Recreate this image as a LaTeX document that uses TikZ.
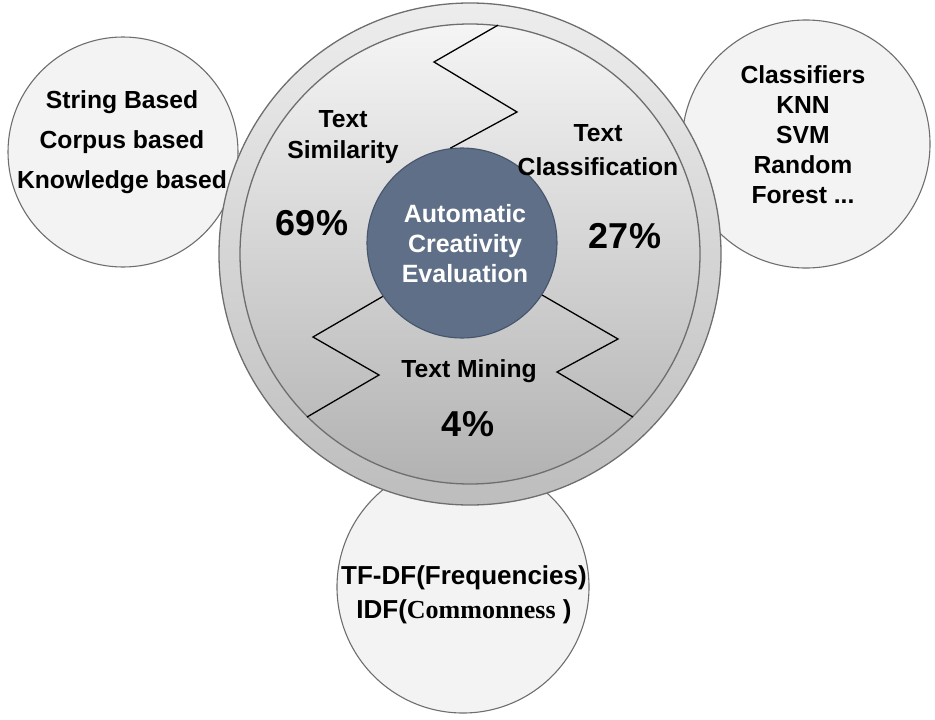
\documentclass[tikz,border=0pt]{standalone}
\usepackage{fontspec}
\setmainfont{Liberation Sans}
\newfontfamily\serifbf{Liberation Serif}
\definecolor{rimgray}{HTML}{6E6E6E}
\definecolor{sidefill}{HTML}{F3F3F3}
\definecolor{slate}{HTML}{5E6F87}
\definecolor{slateedge}{HTML}{46556B}
\definecolor{ringtop}{HTML}{EDEDED}
\definecolor{ringbot}{HTML}{BDBDBD}
\definecolor{intop}{HTML}{F5F5F5}
\definecolor{inbot}{HTML}{B2B2B2}
\begin{document}
\begin{tikzpicture}[x=1pt,y=-1pt,
  side/.style={circle, draw=rimgray, line width=1.1pt, fill=sidefill, minimum size=#1, inner sep=0pt},
  ring/.style={circle, draw=rimgray, line width=1.3pt, minimum size=#1, inner sep=0pt},
  lbl/.style={font=\bfseries\fontsize{24.7}{30}\selectfont, align=center, anchor=base, inner sep=0pt},
  pct/.style={font=\bfseries\fontsize{36}{40}\selectfont, anchor=base, inner sep=0pt},
  zig/.style={draw=black, line width=1.3pt, line join=miter}
]
\useasboundingbox (0,0) rectangle (935,720);
% satellite circles
\node[side=230pt] (leftc) at (123,152) {};
\node[side=248pt] (rightc) at (806,144) {};
\node[side=252pt] (botc) at (463,587) {};
% main circle
\node[ring=502pt, top color=ringtop, bottom color=ringbot] (outer) at (470,254) {};
\node[ring=460pt, top color=intop, bottom color=inbot] (inner) at (470,254) {};
\node[circle, draw=slateedge, line width=1.1pt, fill=slate, minimum size=190pt, inner sep=0pt] (core) at (462,243) {};
% zigzag separators
\coordinate (t1) at (434,62);
\coordinate (t2) at (517,112);
\coordinate (l1) at (313,337);
\coordinate (l2) at (379,375);
\coordinate (r1) at (618,339);
\coordinate (r2) at (557,372);
\draw[zig] (inner.83) -- (t1) -- (t2) -- (core.97);
\draw[zig] (core.214) -- (l1) -- (l2) -- (inner.225);
\draw[zig] (core.327) -- (r1) -- (r2) -- (inner.315);
% texts (base anchor = baseline of the last line)
\node[lbl, font=\bfseries\fontsize{24.7}{40}\selectfont] (ltxt) at (122,188.8) {String Based\\Corpus based\\Knowledge based};
\node[lbl] (rtxt) at (803,203.8) {Classifiers\\KNN\\SVM\\Random\\Forest ...};
\node[lbl, font=\bfseries\fontsize{24.7}{31}\selectfont] (sim) at (343,158.8) {Text\\Similarity};
\node[pct] (p69) at (312,235) {69\%};
\node[lbl, font=\bfseries\fontsize{24.7}{34}\selectfont] (cls) at (598,175.8) {Text\\Classification};
\node[pct] (p27) at (625,248) {27\%};
\node[lbl, text=white, font=\bfseries\fontsize{25}{30}\selectfont] (ace) at (465,282) {Automatic\\Creativity\\Evaluation};
\node[lbl] (mine) at (469,377) {Text Mining};
\node[pct] (p4) at (468,436) {4\%};
\node[lbl, font=\bfseries\fontsize{26}{34}\selectfont] (btxt) at (464,618) {TF-DF(Frequencies)\\IDF({\serifbf\bfseries Commonness} )};
\end{tikzpicture}
\end{document}
